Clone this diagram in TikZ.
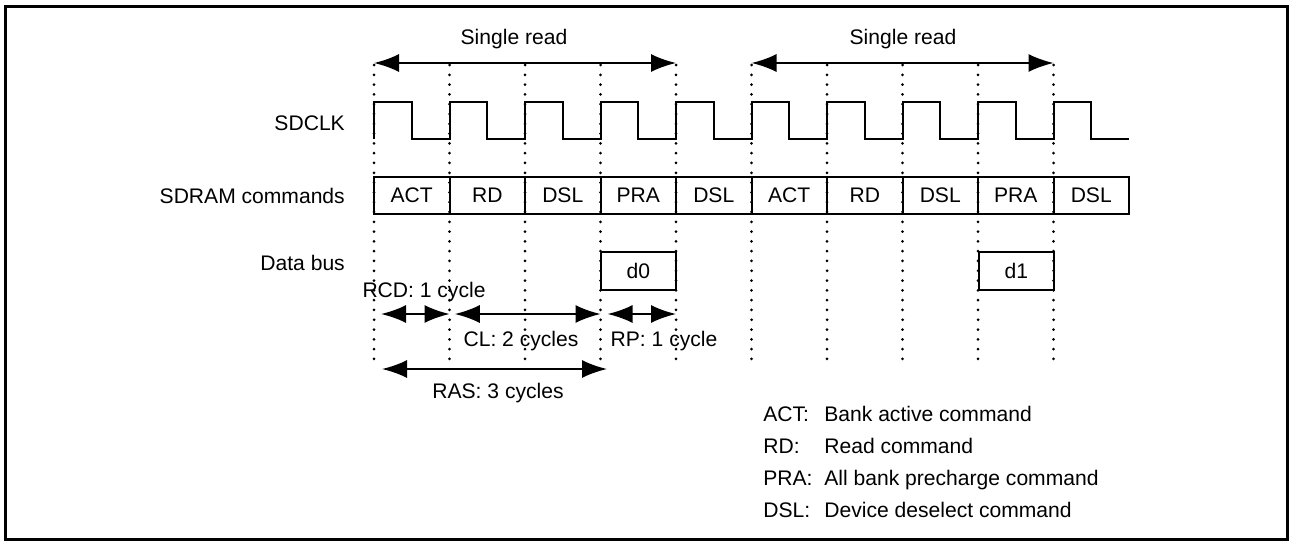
\documentclass[tikz,border=0pt]{standalone}
\usepackage{fontspec}
\setmainfont{Liberation Sans}
\usetikzlibrary{arrows.meta,positioning}

\begin{document}
\begin{tikzpicture}[x=0.02cm,y=-0.02cm,>={Latex[length=0.5cm,width=0.36cm]},
  every node/.style={font=\fontsize{12}{14}\selectfont},
  gridline/.style={line width=0.06cm,line cap=round,dash pattern=on 0pt off 0.196cm},
  cmdbox/.style={draw,line width=0.04cm,minimum width=1.51cm,minimum height=0.75cm,inner sep=0pt},
  span/.style={<->,line width=0.04cm}]
\useasboundingbox (0,0) rectangle (1290,541);
\draw[line width=0.06cm] (5.5,6.5) rectangle (1287,539.5);

% cycle boundaries
\foreach \i in {0,...,9} {
  \coordinate (t\i) at (374+75.5*\i,65);
  \coordinate (b\i) at (374+75.5*\i,365);
  \coordinate (a\i) at (374+75.5*\i,63);
  \coordinate (m\i) at (374+75.5*\i,314);
  \draw[gridline] (t\i) -- (b\i);
}

% signal names
\node[anchor=east] (clk) at (351,123) {SDCLK};
\node[anchor=east] (cmd) at (351,196) {SDRAM commands};
\node[anchor=east] (bus) at (351,263) {Data bus};

% clock
\draw[line width=0.04cm] (374,139) \foreach \i in {0,...,9} {-- ++(0,-37) -- ++(37.75,0) -- ++(0,37) -- ++(37.75,0)};

% commands
\foreach \c [count=\i from 0] in {ACT,RD,DSL,PRA,DSL,ACT,RD,DSL,PRA,DSL}
  \node[cmdbox] (c\i) at (411.75+75.5*\i,195.5) {\c};

% data
\node[cmdbox] (d0) at (638.25,271) {d0};
\node[cmdbox] (d1) at (1016.25,271) {d1};

% single reads
\draw[span] (a0) -- (a4);
\draw[span] (a5) -- (a9);
\node (sr1) at (514,39) {Single read};
\node (sr2) at (903,39) {Single read};

% timing parameters
\coordinate (ras0) at (382,369);
\coordinate (ras3) at (607,369);
\draw[span] ([xshift=4]m0) -- (m1);
\draw[span] ([xshift=3]m1) -- (m3);
\draw[span] ([xshift=4]m3) -- (m4);
\draw[span] (ras0) -- (ras3);
\node (rcd) at (424,292) {RCD: 1 cycle};
\node (cl) at (521,341) {CL: 2 cycles};
\node (rp) at (664,341) {RP: 1 cycle};
\node (ras) at (498,393) {RAS: 3 cycles};

% legend
\foreach \k/\t [count=\j from 0] in {ACT:/Bank active command,RD:/Read command,PRA:/All bank precharge command,DSL:/Device deselect command} {
  \node[anchor=base west,inner sep=0pt] (key\j) at (763,421.5+32*\j) {\k};
  \node[anchor=base west,inner sep=0pt] (txt\j) at (824,421.5+32*\j) {\t};
}
\end{tikzpicture}
\end{document}
